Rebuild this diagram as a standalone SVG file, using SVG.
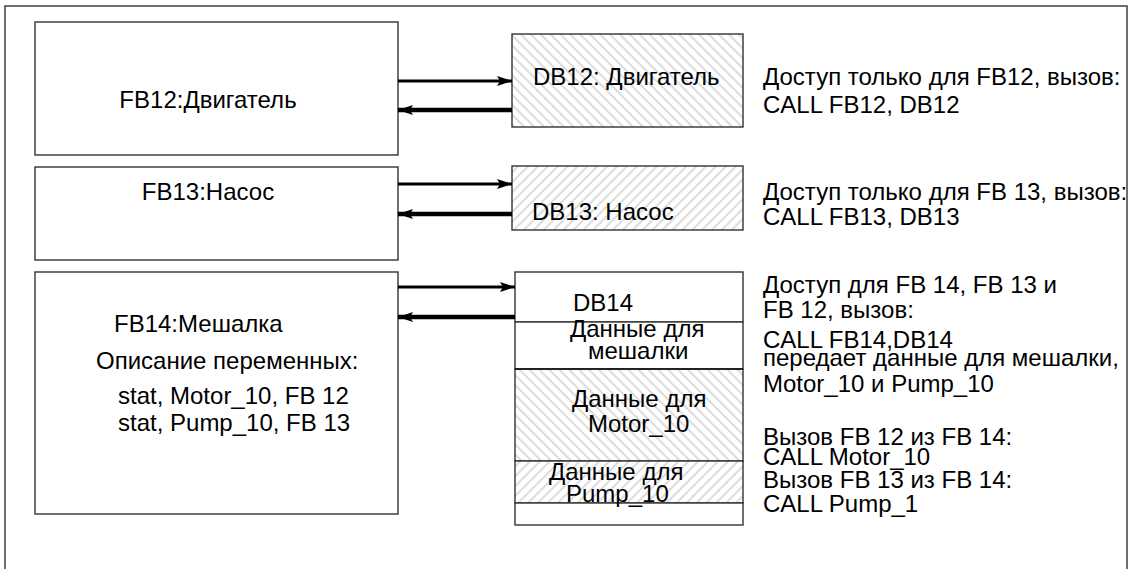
<svg xmlns="http://www.w3.org/2000/svg" width="1131" height="569" viewBox="0 0 1131 569">
<style>
.box{fill:#fff;stroke:#333;stroke-width:1.4}
.hb{stroke:#333;stroke-width:1.4}
.t{font-family:"Liberation Sans",Arial,sans-serif;font-size:24px;fill:#000}
.a1{stroke:#000;stroke-width:3;fill:none}
.a2{stroke:#000;stroke-width:4.5;fill:none}
</style>
<defs>
<pattern id="hb" patternUnits="userSpaceOnUse" width="7" height="7" patternTransform="rotate(-45)">
<rect width="7" height="7" fill="#fff"/>
<line x1="1" y1="0" x2="1" y2="7" stroke="#dcdcdc" stroke-width="2"/>
</pattern>
<pattern id="hf" patternUnits="userSpaceOnUse" width="7" height="7" patternTransform="rotate(45)">
<rect width="7" height="7" fill="#fff"/>
<line x1="1" y1="0" x2="1" y2="7" stroke="#dcdcdc" stroke-width="2"/>
</pattern>
<marker id="ah" markerWidth="15" markerHeight="10" refX="15" refY="5" orient="auto" markerUnits="userSpaceOnUse">
<path d="M0,0 L15,5 L0,10 L3,5 Z" fill="#000"/>
</marker>
</defs>
<rect x="0" y="0" width="1131" height="569" fill="#fff"/>
<rect id="frame" x="5" y="6" width="1122" height="600" fill="none" stroke="#333" stroke-width="1.4"/>

<g id="fb12">
<rect class="box" x="35" y="22" width="363" height="133"/>
<text class="t" x="208" y="108" text-anchor="middle">FB12:Двигатель</text>
</g>
<g id="fb13">
<rect class="box" x="35" y="167" width="363" height="93"/>
<text class="t" x="208" y="200" text-anchor="middle">FB13:Насос</text>
</g>
<g id="fb14">
<rect class="box" x="35" y="272" width="363" height="242"/>
<text class="t" x="114" y="332">FB14:Мешалка</text>
<text class="t" x="96" y="369">Описание переменных:</text>
<text class="t" x="118" y="404">stat, Motor_10, FB 12</text>
<text class="t" x="118" y="431">stat, Pump_10, FB 13</text>
</g>

<g id="db12">
<rect x="512" y="34" width="231" height="93" fill="url(#hb)" class="hb"/>
<text class="t" x="533" y="85">DB12: Двигатель</text>
</g>
<g id="db13">
<rect x="512" y="166" width="231" height="64" fill="url(#hf)" class="hb"/>
<text class="t" x="532" y="220">DB13: Насос</text>
</g>
<g id="db14">
<rect x="515" y="272" width="228" height="50" fill="#fff" class="hb"/>
<rect x="515" y="322" width="228" height="47" fill="#fff" class="hb"/>
<rect x="515" y="369" width="228" height="92" fill="url(#hb)" class="hb"/>
<rect x="515" y="461" width="228" height="42" fill="url(#hf)" class="hb"/>
<rect x="515" y="503" width="228" height="22" fill="#fff" class="hb"/>
<line x1="515" y1="369" x2="743" y2="369" stroke="#222" stroke-width="2.2"/>
<text class="t" x="573" y="311">DB14</text>
<text class="t" x="570" y="337">Данные для</text>
<text class="t" x="588" y="359">мешалки</text>
<text class="t" x="572" y="407">Данные для</text>
<text class="t" x="588" y="432">Motor_10</text>
<text class="t" x="549" y="480">Данные для</text>
<text class="t" x="566" y="502">Pump_10</text>
</g>

<g id="notes">
<text class="t" x="763" y="85">Доступ только для FB12, вызов:</text>
<text class="t" x="763" y="113">CALL FB12, DB12</text>
<text class="t" x="763" y="200">Доступ только для FB 13, вызов:</text>
<text class="t" x="763" y="225">CALL FB13, DB13</text>
<text class="t" x="763" y="293">Доступ для FB 14, FB 13 и</text>
<text class="t" x="763" y="318">FB 12, вызов:</text>
<text class="t" x="763" y="348">CALL FB14,DB14</text>
<text class="t" x="763" y="366">передает данные для мешалки,</text>
<text class="t" x="763" y="392">Motor_10 и Pump_10</text>
<text class="t" x="763" y="445">Вызов FB 12 из FB 14:</text>
<text class="t" x="763" y="465">CALL Motor_10</text>
<text class="t" x="763" y="488">Вызов FB 13 из FB 14:</text>
<text class="t" x="763" y="512">CALL Pump_1</text>
</g>

<g id="connectors">
<line class="a1" x1="398" y1="81" x2="512" y2="81" marker-end="url(#ah)"/>
<line class="a2" x1="512" y1="110" x2="398" y2="110" marker-end="url(#ah)"/>
<line class="a1" x1="398" y1="184" x2="512" y2="184" marker-end="url(#ah)"/>
<line class="a2" x1="512" y1="214" x2="398" y2="214" marker-end="url(#ah)"/>
<line class="a1" x1="398" y1="287" x2="515" y2="287" marker-end="url(#ah)"/>
<line class="a2" x1="515" y1="317" x2="398" y2="317" marker-end="url(#ah)"/>
</g>
</svg>
